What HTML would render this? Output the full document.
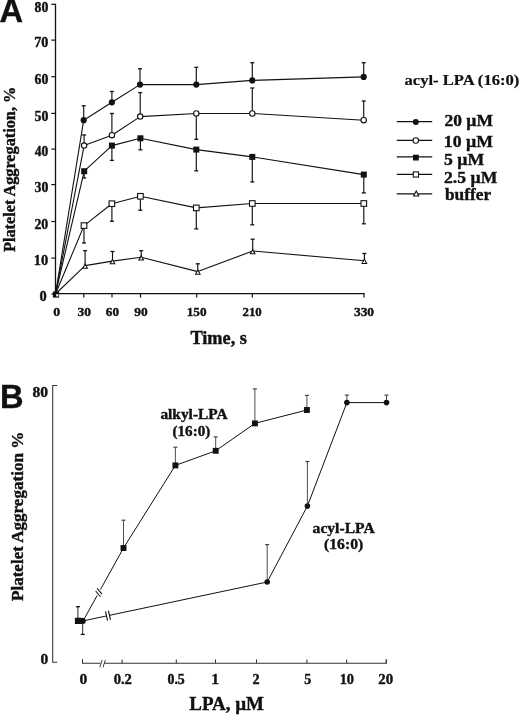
<!DOCTYPE html>
<html><head><meta charset="utf-8"><style>
html,body{margin:0;padding:0;background:#fff;overflow:hidden;}
svg{display:block;filter:blur(0.3px);}
</style></head><body>
<svg width="520" height="717" viewBox="0 0 520 717" fill="#111">
<rect width="520" height="717" fill="#fff"/>
<line x1="55.50" y1="3.70" x2="55.50" y2="294.60" stroke="#111" stroke-width="1.3"/>
<line x1="54.90" y1="293.60" x2="364.60" y2="293.60" stroke="#111" stroke-width="1.25"/>
<line x1="51.30" y1="294.00" x2="55.50" y2="294.00" stroke="#111" stroke-width="1.2"/>
<line x1="51.30" y1="258.10" x2="55.50" y2="258.10" stroke="#111" stroke-width="1.2"/>
<line x1="51.30" y1="221.50" x2="55.50" y2="221.50" stroke="#111" stroke-width="1.2"/>
<line x1="51.30" y1="184.60" x2="55.50" y2="184.60" stroke="#111" stroke-width="1.2"/>
<line x1="51.30" y1="149.10" x2="55.50" y2="149.10" stroke="#111" stroke-width="1.2"/>
<line x1="51.30" y1="113.40" x2="55.50" y2="113.40" stroke="#111" stroke-width="1.2"/>
<line x1="51.30" y1="76.70" x2="55.50" y2="76.70" stroke="#111" stroke-width="1.2"/>
<line x1="51.30" y1="40.10" x2="55.50" y2="40.10" stroke="#111" stroke-width="1.2"/>
<line x1="51.30" y1="4.30" x2="55.50" y2="4.30" stroke="#111" stroke-width="1.2"/>
<line x1="83.80" y1="293.60" x2="83.80" y2="297.60" stroke="#111" stroke-width="1.2"/>
<line x1="112.00" y1="293.60" x2="112.00" y2="297.60" stroke="#111" stroke-width="1.2"/>
<line x1="140.50" y1="293.60" x2="140.50" y2="297.60" stroke="#111" stroke-width="1.2"/>
<line x1="196.70" y1="293.60" x2="196.70" y2="297.60" stroke="#111" stroke-width="1.2"/>
<line x1="252.30" y1="293.60" x2="252.30" y2="297.60" stroke="#111" stroke-width="1.2"/>
<line x1="364.00" y1="293.60" x2="364.00" y2="297.60" stroke="#111" stroke-width="1.2"/>
<polyline points="55.50,294.00 83.70,120.20 111.90,102.30 140.00,84.60 196.30,84.60 252.30,80.40 363.70,76.90" fill="none" stroke="#111" stroke-width="1.1" stroke-linejoin="round"/>
<polyline points="55.50,294.00 84.10,145.60 111.90,135.20 140.20,116.60 196.30,113.50 252.30,113.50 363.70,120.20" fill="none" stroke="#111" stroke-width="1.1" stroke-linejoin="round"/>
<polyline points="55.50,294.00 84.20,171.20 111.90,145.60 140.40,138.30 196.30,149.60 252.30,156.90 363.80,174.60" fill="none" stroke="#111" stroke-width="1.1" stroke-linejoin="round"/>
<polyline points="55.50,294.00 84.00,225.60 111.90,203.70 140.40,196.30 196.30,207.90 252.30,203.50 363.80,203.50" fill="none" stroke="#111" stroke-width="1.1" stroke-linejoin="round"/>
<polyline points="55.50,294.00 85.10,265.60 112.50,261.10 141.20,257.30 197.80,271.60 252.70,251.00 364.40,260.70" fill="none" stroke="#111" stroke-width="1.1" stroke-linejoin="round"/>
<line x1="83.70" y1="120.20" x2="83.70" y2="105.80" stroke="#111" stroke-width="1.15"/>
<line x1="81.70" y1="105.80" x2="85.70" y2="105.80" stroke="#111" stroke-width="1.3"/>
<line x1="111.90" y1="102.30" x2="111.90" y2="91.50" stroke="#111" stroke-width="1.15"/>
<line x1="109.90" y1="91.50" x2="113.90" y2="91.50" stroke="#111" stroke-width="1.3"/>
<line x1="140.00" y1="84.60" x2="140.00" y2="68.80" stroke="#111" stroke-width="1.15"/>
<line x1="138.00" y1="68.80" x2="142.00" y2="68.80" stroke="#111" stroke-width="1.3"/>
<line x1="196.30" y1="84.60" x2="196.30" y2="67.30" stroke="#111" stroke-width="1.15"/>
<line x1="194.30" y1="67.30" x2="198.30" y2="67.30" stroke="#111" stroke-width="1.3"/>
<line x1="252.30" y1="80.40" x2="252.30" y2="62.70" stroke="#111" stroke-width="1.15"/>
<line x1="250.30" y1="62.70" x2="254.30" y2="62.70" stroke="#111" stroke-width="1.3"/>
<line x1="363.70" y1="76.90" x2="363.70" y2="62.70" stroke="#111" stroke-width="1.15"/>
<line x1="361.70" y1="62.70" x2="365.70" y2="62.70" stroke="#111" stroke-width="1.3"/>
<line x1="84.10" y1="145.60" x2="84.10" y2="135.00" stroke="#111" stroke-width="1.15"/>
<line x1="82.10" y1="135.00" x2="86.10" y2="135.00" stroke="#111" stroke-width="1.3"/>
<line x1="111.90" y1="135.20" x2="111.90" y2="113.50" stroke="#111" stroke-width="1.15"/>
<line x1="109.90" y1="113.50" x2="113.90" y2="113.50" stroke="#111" stroke-width="1.3"/>
<line x1="140.20" y1="116.60" x2="140.20" y2="92.60" stroke="#111" stroke-width="1.15"/>
<line x1="138.20" y1="92.60" x2="142.20" y2="92.60" stroke="#111" stroke-width="1.3"/>
<line x1="196.30" y1="113.50" x2="196.30" y2="139.30" stroke="#111" stroke-width="1.15"/>
<line x1="194.30" y1="139.30" x2="198.30" y2="139.30" stroke="#111" stroke-width="1.3"/>
<line x1="252.30" y1="113.50" x2="252.30" y2="88.00" stroke="#111" stroke-width="1.15"/>
<line x1="250.30" y1="88.00" x2="254.30" y2="88.00" stroke="#111" stroke-width="1.3"/>
<line x1="363.70" y1="120.20" x2="363.70" y2="101.00" stroke="#111" stroke-width="1.15"/>
<line x1="361.70" y1="101.00" x2="365.70" y2="101.00" stroke="#111" stroke-width="1.3"/>
<line x1="84.20" y1="171.20" x2="84.20" y2="178.00" stroke="#111" stroke-width="1.15"/>
<line x1="82.20" y1="178.00" x2="86.20" y2="178.00" stroke="#111" stroke-width="1.3"/>
<line x1="111.90" y1="145.60" x2="111.90" y2="160.40" stroke="#111" stroke-width="1.15"/>
<line x1="109.90" y1="160.40" x2="113.90" y2="160.40" stroke="#111" stroke-width="1.3"/>
<line x1="140.40" y1="138.30" x2="140.40" y2="149.80" stroke="#111" stroke-width="1.15"/>
<line x1="138.40" y1="149.80" x2="142.40" y2="149.80" stroke="#111" stroke-width="1.3"/>
<line x1="196.30" y1="149.60" x2="196.30" y2="170.80" stroke="#111" stroke-width="1.15"/>
<line x1="194.30" y1="170.80" x2="198.30" y2="170.80" stroke="#111" stroke-width="1.3"/>
<line x1="252.30" y1="156.90" x2="252.30" y2="181.90" stroke="#111" stroke-width="1.15"/>
<line x1="250.30" y1="181.90" x2="254.30" y2="181.90" stroke="#111" stroke-width="1.3"/>
<line x1="363.80" y1="174.60" x2="363.80" y2="192.90" stroke="#111" stroke-width="1.15"/>
<line x1="361.80" y1="192.90" x2="365.80" y2="192.90" stroke="#111" stroke-width="1.3"/>
<line x1="84.00" y1="225.60" x2="84.00" y2="243.00" stroke="#111" stroke-width="1.15"/>
<line x1="82.00" y1="243.00" x2="86.00" y2="243.00" stroke="#111" stroke-width="1.3"/>
<line x1="111.90" y1="203.70" x2="111.90" y2="221.30" stroke="#111" stroke-width="1.15"/>
<line x1="109.90" y1="221.30" x2="113.90" y2="221.30" stroke="#111" stroke-width="1.3"/>
<line x1="140.40" y1="196.30" x2="140.40" y2="210.20" stroke="#111" stroke-width="1.15"/>
<line x1="138.40" y1="210.20" x2="142.40" y2="210.20" stroke="#111" stroke-width="1.3"/>
<line x1="196.30" y1="207.90" x2="196.30" y2="228.90" stroke="#111" stroke-width="1.15"/>
<line x1="194.30" y1="228.90" x2="198.30" y2="228.90" stroke="#111" stroke-width="1.3"/>
<line x1="252.30" y1="203.50" x2="252.30" y2="224.80" stroke="#111" stroke-width="1.15"/>
<line x1="250.30" y1="224.80" x2="254.30" y2="224.80" stroke="#111" stroke-width="1.3"/>
<line x1="363.80" y1="203.50" x2="363.80" y2="223.80" stroke="#111" stroke-width="1.15"/>
<line x1="361.80" y1="223.80" x2="365.80" y2="223.80" stroke="#111" stroke-width="1.3"/>
<line x1="85.10" y1="265.60" x2="85.10" y2="250.70" stroke="#111" stroke-width="1.15"/>
<line x1="83.10" y1="250.70" x2="87.10" y2="250.70" stroke="#111" stroke-width="1.3"/>
<line x1="112.50" y1="261.10" x2="112.50" y2="251.50" stroke="#111" stroke-width="1.15"/>
<line x1="110.50" y1="251.50" x2="114.50" y2="251.50" stroke="#111" stroke-width="1.3"/>
<line x1="141.20" y1="257.30" x2="141.20" y2="250.70" stroke="#111" stroke-width="1.15"/>
<line x1="139.20" y1="250.70" x2="143.20" y2="250.70" stroke="#111" stroke-width="1.3"/>
<line x1="197.80" y1="271.60" x2="197.80" y2="263.80" stroke="#111" stroke-width="1.15"/>
<line x1="195.80" y1="263.80" x2="199.80" y2="263.80" stroke="#111" stroke-width="1.3"/>
<line x1="252.70" y1="251.00" x2="252.70" y2="239.20" stroke="#111" stroke-width="1.15"/>
<line x1="250.70" y1="239.20" x2="254.70" y2="239.20" stroke="#111" stroke-width="1.3"/>
<line x1="364.40" y1="260.70" x2="364.40" y2="253.50" stroke="#111" stroke-width="1.15"/>
<line x1="362.40" y1="253.50" x2="366.40" y2="253.50" stroke="#111" stroke-width="1.3"/>
<circle cx="83.7" cy="120.2" r="3.1" fill="#111"/>
<circle cx="111.9" cy="102.3" r="3.1" fill="#111"/>
<circle cx="140.0" cy="84.6" r="3.1" fill="#111"/>
<circle cx="196.3" cy="84.6" r="3.1" fill="#111"/>
<circle cx="252.3" cy="80.4" r="3.1" fill="#111"/>
<circle cx="363.7" cy="76.9" r="3.1" fill="#111"/>
<circle cx="84.1" cy="145.6" r="2.7" fill="#fff" stroke="#111" stroke-width="1.1"/>
<circle cx="111.9" cy="135.2" r="2.7" fill="#fff" stroke="#111" stroke-width="1.1"/>
<circle cx="140.2" cy="116.6" r="2.7" fill="#fff" stroke="#111" stroke-width="1.1"/>
<circle cx="196.3" cy="113.5" r="2.7" fill="#fff" stroke="#111" stroke-width="1.1"/>
<circle cx="252.3" cy="113.5" r="2.7" fill="#fff" stroke="#111" stroke-width="1.1"/>
<circle cx="363.7" cy="120.2" r="2.7" fill="#fff" stroke="#111" stroke-width="1.1"/>
<rect x="81.20" y="168.20" width="6" height="6" fill="#111"/>
<rect x="108.90" y="142.60" width="6" height="6" fill="#111"/>
<rect x="137.40" y="135.30" width="6" height="6" fill="#111"/>
<rect x="193.30" y="146.60" width="6" height="6" fill="#111"/>
<rect x="249.30" y="153.90" width="6" height="6" fill="#111"/>
<rect x="360.80" y="171.60" width="6" height="6" fill="#111"/>
<rect x="81.20" y="222.80" width="5.6" height="5.6" fill="#fff" stroke="#111" stroke-width="1.1"/>
<rect x="109.10" y="200.90" width="5.6" height="5.6" fill="#fff" stroke="#111" stroke-width="1.1"/>
<rect x="137.60" y="193.50" width="5.6" height="5.6" fill="#fff" stroke="#111" stroke-width="1.1"/>
<rect x="193.50" y="205.10" width="5.6" height="5.6" fill="#fff" stroke="#111" stroke-width="1.1"/>
<rect x="249.50" y="200.70" width="5.6" height="5.6" fill="#fff" stroke="#111" stroke-width="1.1"/>
<rect x="361.00" y="200.70" width="5.6" height="5.6" fill="#fff" stroke="#111" stroke-width="1.1"/>
<polygon points="85.10,264.00 82.80,268.30 87.40,268.30" fill="#fff" stroke="#111" stroke-width="1.05" stroke-linejoin="miter"/>
<polygon points="112.50,259.50 110.20,263.80 114.80,263.80" fill="#fff" stroke="#111" stroke-width="1.05" stroke-linejoin="miter"/>
<polygon points="141.20,255.70 138.90,260.00 143.50,260.00" fill="#fff" stroke="#111" stroke-width="1.05" stroke-linejoin="miter"/>
<polygon points="197.80,270.00 195.50,274.30 200.10,274.30" fill="#fff" stroke="#111" stroke-width="1.05" stroke-linejoin="miter"/>
<polygon points="252.70,249.40 250.40,253.70 255.00,253.70" fill="#fff" stroke="#111" stroke-width="1.05" stroke-linejoin="miter"/>
<polygon points="364.40,259.10 362.10,263.40 366.70,263.40" fill="#fff" stroke="#111" stroke-width="1.05" stroke-linejoin="miter"/>
<rect x="52.90" y="291.40" width="6.2" height="6.2" fill="#111"/>
<rect x="56.2" y="294.2" width="2.2" height="2.2" fill="#fff"/>
<line x1="396.80" y1="121.60" x2="432.20" y2="121.60" stroke="#111" stroke-width="1.2"/>
<circle cx="415.8" cy="121.89999999999999" r="3.0" fill="#111"/>
<line x1="396.80" y1="140.30" x2="432.20" y2="140.30" stroke="#111" stroke-width="1.2"/>
<circle cx="415.8" cy="140.5" r="2.75" fill="#fff" stroke="#111" stroke-width="1.1"/>
<line x1="396.80" y1="156.90" x2="432.20" y2="156.90" stroke="#111" stroke-width="1.2"/>
<rect x="413.00" y="154.70" width="5.8" height="5.8" fill="#111"/>
<line x1="396.80" y1="174.30" x2="432.20" y2="174.30" stroke="#111" stroke-width="1.2"/>
<rect x="413.30" y="171.90" width="5.2" height="5.2" fill="#fff" stroke="#111" stroke-width="1.1"/>
<line x1="396.80" y1="193.90" x2="432.20" y2="193.90" stroke="#111" stroke-width="1.2"/>
<polygon points="416.2,190.9 413.6,196.0 418.8,196.0" fill="#fff" stroke="#111" stroke-width="1.1"/>
<g stroke="#2a2a2a">
<path d="M57.2,385.4 H52.7 V662.2 H57.2" fill="none" stroke="#333" stroke-width="1.05"/>
</g>
<path d="M82.5,659.4 V663.2 H100.6 M104.2,663.2 H386.3 V659.4" fill="none" stroke="#333" stroke-width="1.05"/>
<line x1="82.5" y1="659.4" x2="82.5" y2="663.2" stroke="#333" stroke-width="1.05"/>
<line x1="122.1" y1="659.4" x2="122.1" y2="663.2" stroke="#333" stroke-width="1.05"/>
<line x1="176.3" y1="659.4" x2="176.3" y2="663.2" stroke="#333" stroke-width="1.05"/>
<line x1="215.5" y1="659.4" x2="215.5" y2="663.2" stroke="#333" stroke-width="1.05"/>
<line x1="256.5" y1="659.4" x2="256.5" y2="663.2" stroke="#333" stroke-width="1.05"/>
<line x1="306.9" y1="659.4" x2="306.9" y2="663.2" stroke="#333" stroke-width="1.05"/>
<line x1="346.7" y1="659.4" x2="346.7" y2="663.2" stroke="#333" stroke-width="1.05"/>
<line x1="386.3" y1="659.4" x2="386.3" y2="663.2" stroke="#333" stroke-width="1.05"/>
<path d="M99.7,667.4 L102.2,659.9 M102.9,667.4 L105.4,659.9" stroke="#333" stroke-width="0.95" fill="none"/>
<line x1="83.10" y1="620.90" x2="97.18" y2="595.49" stroke="#111" stroke-width="1.0"/>
<line x1="100.42" y1="589.65" x2="123.50" y2="548.00" stroke="#111" stroke-width="1.0"/>
<line x1="95.66" y1="591.01" x2="100.48" y2="596.75" stroke="#111" stroke-width="1.1"/>
<line x1="97.12" y1="588.39" x2="101.94" y2="594.13" stroke="#111" stroke-width="1.1"/>
<line x1="83.10" y1="620.90" x2="106.53" y2="615.95" stroke="#111" stroke-width="1.0"/>
<line x1="109.47" y1="615.33" x2="267.20" y2="582.00" stroke="#111" stroke-width="1.0"/>
<line x1="105.54" y1="611.30" x2="107.52" y2="620.59" stroke="#111" stroke-width="1.1"/>
<line x1="108.48" y1="610.68" x2="110.46" y2="619.97" stroke="#111" stroke-width="1.1"/>
<polyline points="123.50,548.00 175.40,465.40 215.70,450.80 254.90,423.40 306.90,410.00" fill="none" stroke="#111" stroke-width="1.0" stroke-linejoin="round"/>
<polyline points="267.20,582.00 307.40,506.10 346.90,402.60 386.50,402.60" fill="none" stroke="#111" stroke-width="1.0" stroke-linejoin="round"/>
<line x1="123.50" y1="548.00" x2="123.50" y2="520.20" stroke="#444" stroke-width="0.95"/>
<line x1="121.50" y1="520.20" x2="125.50" y2="520.20" stroke="#444" stroke-width="1.2"/>
<line x1="175.40" y1="465.40" x2="175.40" y2="447.20" stroke="#444" stroke-width="0.95"/>
<line x1="173.40" y1="447.20" x2="177.40" y2="447.20" stroke="#444" stroke-width="1.2"/>
<line x1="215.70" y1="450.80" x2="215.70" y2="436.90" stroke="#444" stroke-width="0.95"/>
<line x1="213.70" y1="436.90" x2="217.70" y2="436.90" stroke="#444" stroke-width="1.2"/>
<line x1="254.90" y1="423.40" x2="254.90" y2="388.90" stroke="#444" stroke-width="0.95"/>
<line x1="252.90" y1="388.90" x2="256.90" y2="388.90" stroke="#444" stroke-width="1.2"/>
<line x1="306.90" y1="410.00" x2="306.90" y2="395.40" stroke="#444" stroke-width="0.95"/>
<line x1="304.90" y1="395.40" x2="308.90" y2="395.40" stroke="#444" stroke-width="1.2"/>
<line x1="267.20" y1="582.00" x2="267.20" y2="544.60" stroke="#444" stroke-width="0.95"/>
<line x1="265.20" y1="544.60" x2="269.20" y2="544.60" stroke="#444" stroke-width="1.2"/>
<line x1="307.40" y1="506.10" x2="307.40" y2="461.50" stroke="#444" stroke-width="0.95"/>
<line x1="305.40" y1="461.50" x2="309.40" y2="461.50" stroke="#444" stroke-width="1.2"/>
<line x1="346.90" y1="402.60" x2="346.90" y2="395.10" stroke="#444" stroke-width="0.95"/>
<line x1="344.90" y1="395.10" x2="348.90" y2="395.10" stroke="#444" stroke-width="1.2"/>
<line x1="386.50" y1="402.60" x2="386.50" y2="395.10" stroke="#444" stroke-width="0.95"/>
<line x1="384.50" y1="395.10" x2="388.50" y2="395.10" stroke="#444" stroke-width="1.2"/>
<rect x="120.55" y="545.05" width="5.9" height="5.9" fill="#111"/>
<rect x="172.45" y="462.45" width="5.9" height="5.9" fill="#111"/>
<rect x="212.75" y="447.85" width="5.9" height="5.9" fill="#111"/>
<rect x="251.95" y="420.45" width="5.9" height="5.9" fill="#111"/>
<rect x="303.95" y="407.05" width="5.9" height="5.9" fill="#111"/>
<circle cx="267.2" cy="582.0" r="2.8" fill="#111"/>
<circle cx="307.4" cy="506.1" r="2.8" fill="#111"/>
<circle cx="346.9" cy="402.6" r="2.8" fill="#111"/>
<circle cx="386.5" cy="402.6" r="2.8" fill="#111"/>
<line x1="77.90" y1="620.90" x2="77.90" y2="606.70" stroke="#111" stroke-width="0.9"/>
<line x1="75.90" y1="606.70" x2="79.90" y2="606.70" stroke="#111" stroke-width="1.3"/>
<line x1="82.70" y1="620.90" x2="82.70" y2="634.40" stroke="#111" stroke-width="0.9"/>
<line x1="80.70" y1="634.40" x2="84.70" y2="634.40" stroke="#111" stroke-width="1.3"/>
<rect x="74.90" y="617.80" width="6.2" height="6.2" fill="#111"/>
<circle cx="82.8" cy="620.9" r="3.0" fill="#111"/>
<rect x="78" y="617.9" width="4.8" height="6" fill="#111"/>
<text transform="translate(-0.41,22.30) scale(1.0106,1)" font-family="&quot;Liberation Sans&quot;, sans-serif" font-weight="bold" font-size="32.3" stroke="#111" stroke-width="0.396" stroke-linejoin="round">A</text>
<text transform="translate(39.55,301.10) scale(1.0583,1)" font-family="&quot;Liberation Serif&quot;, serif" font-weight="bold" font-size="13.6" stroke="#111" stroke-width="0.378" stroke-linejoin="round">0</text>
<text transform="translate(33.84,265.30) scale(1.0673,1)" font-family="&quot;Liberation Serif&quot;, serif" font-weight="bold" font-size="13.6" stroke="#111" stroke-width="0.375" stroke-linejoin="round">10</text>
<text transform="translate(34.42,228.70) scale(1.0231,1)" font-family="&quot;Liberation Serif&quot;, serif" font-weight="bold" font-size="13.6" stroke="#111" stroke-width="0.391" stroke-linejoin="round">20</text>
<text transform="translate(34.48,191.80) scale(1.0182,1)" font-family="&quot;Liberation Serif&quot;, serif" font-weight="bold" font-size="13.6" stroke="#111" stroke-width="0.393" stroke-linejoin="round">30</text>
<text transform="translate(34.82,156.30) scale(0.9925,1)" font-family="&quot;Liberation Serif&quot;, serif" font-weight="bold" font-size="13.6" stroke="#111" stroke-width="0.403" stroke-linejoin="round">40</text>
<text transform="translate(34.44,120.60) scale(1.0209,1)" font-family="&quot;Liberation Serif&quot;, serif" font-weight="bold" font-size="13.6" stroke="#111" stroke-width="0.392" stroke-linejoin="round">50</text>
<text transform="translate(34.53,83.90) scale(1.0145,1)" font-family="&quot;Liberation Serif&quot;, serif" font-weight="bold" font-size="13.6" stroke="#111" stroke-width="0.394" stroke-linejoin="round">60</text>
<text transform="translate(34.19,47.30) scale(1.0402,1)" font-family="&quot;Liberation Serif&quot;, serif" font-weight="bold" font-size="13.6" stroke="#111" stroke-width="0.385" stroke-linejoin="round">70</text>
<text transform="translate(34.54,11.50) scale(1.0134,1)" font-family="&quot;Liberation Serif&quot;, serif" font-weight="bold" font-size="13.6" stroke="#111" stroke-width="0.395" stroke-linejoin="round">80</text>
<text transform="translate(53.17,316.00) scale(1.0389,1)" font-family="&quot;Liberation Serif&quot;, serif" font-weight="bold" font-size="13.4" stroke="#111" stroke-width="0.385" stroke-linejoin="round">0</text>
<text transform="translate(77.39,316.00) scale(1.0092,1)" font-family="&quot;Liberation Serif&quot;, serif" font-weight="bold" font-size="13.4" stroke="#111" stroke-width="0.396" stroke-linejoin="round">30</text>
<text transform="translate(105.80,316.00) scale(0.9854,1)" font-family="&quot;Liberation Serif&quot;, serif" font-weight="bold" font-size="13.4" stroke="#111" stroke-width="0.406" stroke-linejoin="round">60</text>
<text transform="translate(134.23,316.00) scale(0.9981,1)" font-family="&quot;Liberation Serif&quot;, serif" font-weight="bold" font-size="13.4" stroke="#111" stroke-width="0.401" stroke-linejoin="round">90</text>
<text transform="translate(186.75,316.00) scale(0.9829,1)" font-family="&quot;Liberation Serif&quot;, serif" font-weight="bold" font-size="13.4" stroke="#111" stroke-width="0.407" stroke-linejoin="round">150</text>
<text transform="translate(242.56,316.00) scale(0.9565,1)" font-family="&quot;Liberation Serif&quot;, serif" font-weight="bold" font-size="13.4" stroke="#111" stroke-width="0.418" stroke-linejoin="round">210</text>
<text transform="translate(353.89,316.00) scale(1.0060,1)" font-family="&quot;Liberation Serif&quot;, serif" font-weight="bold" font-size="13.4" stroke="#111" stroke-width="0.398" stroke-linejoin="round">330</text>
<text transform="translate(190.41,343.90) scale(1.0117,1)" font-family="&quot;Liberation Serif&quot;, serif" font-weight="bold" font-size="18.1" stroke="#111" stroke-width="0.395" stroke-linejoin="round">Time, s</text>
<text transform="translate(14.60,251.98) rotate(-90) scale(0.9968,1)" font-family="&quot;Liberation Serif&quot;, serif" font-weight="bold" font-size="16.3" stroke="#111" stroke-width="0.401" stroke-linejoin="round">Platelet Aggregation, %</text>
<text transform="translate(404.57,85.00) scale(1.1049,1)" font-family="&quot;Liberation Serif&quot;, serif" font-weight="bold" font-size="15.0" stroke="#111" stroke-width="0.226" stroke-linejoin="round">acyl- LPA (16:0)</text>
<text transform="translate(444.46,126.20) scale(1.0620,1)" font-family="&quot;Liberation Serif&quot;, serif" font-weight="bold" font-size="16.5" stroke="#111" stroke-width="0.377" stroke-linejoin="round">20 µM</text>
<text transform="translate(443.78,147.30) scale(1.0772,1)" font-family="&quot;Liberation Serif&quot;, serif" font-weight="bold" font-size="16.5" stroke="#111" stroke-width="0.371" stroke-linejoin="round">10 µM</text>
<text transform="translate(444.09,165.00) scale(1.0738,1)" font-family="&quot;Liberation Serif&quot;, serif" font-weight="bold" font-size="16.5" stroke="#111" stroke-width="0.373" stroke-linejoin="round">5 µM</text>
<text transform="translate(444.06,182.50) scale(1.0686,1)" font-family="&quot;Liberation Serif&quot;, serif" font-weight="bold" font-size="16.5" stroke="#111" stroke-width="0.374" stroke-linejoin="round">2.5 µM</text>
<text transform="translate(444.98,199.60) scale(1.0966,1)" font-family="&quot;Liberation Serif&quot;, serif" font-weight="bold" font-size="15.8" stroke="#111" stroke-width="0.365" stroke-linejoin="round">buffer</text>
<text transform="translate(-0.08,407.60) scale(0.9888,1)" font-family="&quot;Liberation Sans&quot;, sans-serif" font-weight="bold" font-size="33.0" stroke="#111" stroke-width="0.405" stroke-linejoin="round">B</text>
<text transform="translate(32.38,396.60) scale(1.0272,1)" font-family="&quot;Liberation Serif&quot;, serif" font-weight="bold" font-size="15.2" stroke="#111" stroke-width="0.389" stroke-linejoin="round">80</text>
<text transform="translate(40.51,664.00) scale(1.0245,1)" font-family="&quot;Liberation Serif&quot;, serif" font-weight="bold" font-size="15.2" stroke="#111" stroke-width="0.390" stroke-linejoin="round">0</text>
<text transform="translate(79.61,683.70) scale(1.0966,1)" font-family="&quot;Liberation Serif&quot;, serif" font-weight="bold" font-size="14.2" stroke="#111" stroke-width="0.365" stroke-linejoin="round">0</text>
<text transform="translate(113.64,683.70) scale(1.0302,1)" font-family="&quot;Liberation Serif&quot;, serif" font-weight="bold" font-size="14.2" stroke="#111" stroke-width="0.388" stroke-linejoin="round">0.2</text>
<text transform="translate(167.47,683.70) scale(0.9767,1)" font-family="&quot;Liberation Serif&quot;, serif" font-weight="bold" font-size="14.2" stroke="#111" stroke-width="0.410" stroke-linejoin="round">0.5</text>
<text transform="translate(211.24,683.70) scale(1.1094,1)" font-family="&quot;Liberation Serif&quot;, serif" font-weight="bold" font-size="14.2" stroke="#111" stroke-width="0.361" stroke-linejoin="round">1</text>
<text transform="translate(252.50,683.70) scale(1.0011,1)" font-family="&quot;Liberation Serif&quot;, serif" font-weight="bold" font-size="14.2" stroke="#111" stroke-width="0.400" stroke-linejoin="round">2</text>
<text transform="translate(304.24,683.70) scale(0.9815,1)" font-family="&quot;Liberation Serif&quot;, serif" font-weight="bold" font-size="14.2" stroke="#111" stroke-width="0.408" stroke-linejoin="round">5</text>
<text transform="translate(339.65,683.70) scale(1.0142,1)" font-family="&quot;Liberation Serif&quot;, serif" font-weight="bold" font-size="14.2" stroke="#111" stroke-width="0.394" stroke-linejoin="round">10</text>
<text transform="translate(378.27,683.70) scale(1.0488,1)" font-family="&quot;Liberation Serif&quot;, serif" font-weight="bold" font-size="14.2" stroke="#111" stroke-width="0.381" stroke-linejoin="round">20</text>
<text transform="translate(189.28,710.30) scale(1.0355,1)" font-family="&quot;Liberation Serif&quot;, serif" font-weight="bold" font-size="18.3" stroke="#111" stroke-width="0.386" stroke-linejoin="round">LPA, µM</text>
<text transform="translate(22.80,600.99) rotate(-90) scale(1.0041,1)" font-family="&quot;Liberation Serif&quot;, serif" font-weight="bold" font-size="17.0" stroke="#111" stroke-width="0.398" stroke-linejoin="round">Platelet Aggregation %</text>
<text transform="translate(160.40,419.40) scale(1.0845,1)" font-family="&quot;Liberation Serif&quot;, serif" font-weight="bold" font-size="14.2" stroke="#111" stroke-width="0.369" stroke-linejoin="round">alkyl-LPA</text>
<text transform="translate(172.54,435.60) scale(1.0631,1)" font-family="&quot;Liberation Serif&quot;, serif" font-weight="bold" font-size="14.2" stroke="#111" stroke-width="0.376" stroke-linejoin="round">(16:0)</text>
<text transform="translate(312.60,532.60) scale(1.1147,1)" font-family="&quot;Liberation Serif&quot;, serif" font-weight="bold" font-size="14.0" stroke="#111" stroke-width="0.359" stroke-linejoin="round">acyl-LPA</text>
<text transform="translate(324.11,549.00) scale(1.1011,1)" font-family="&quot;Liberation Serif&quot;, serif" font-weight="bold" font-size="14.2" stroke="#111" stroke-width="0.363" stroke-linejoin="round">(16:0)</text>
</svg>
</body></html>
